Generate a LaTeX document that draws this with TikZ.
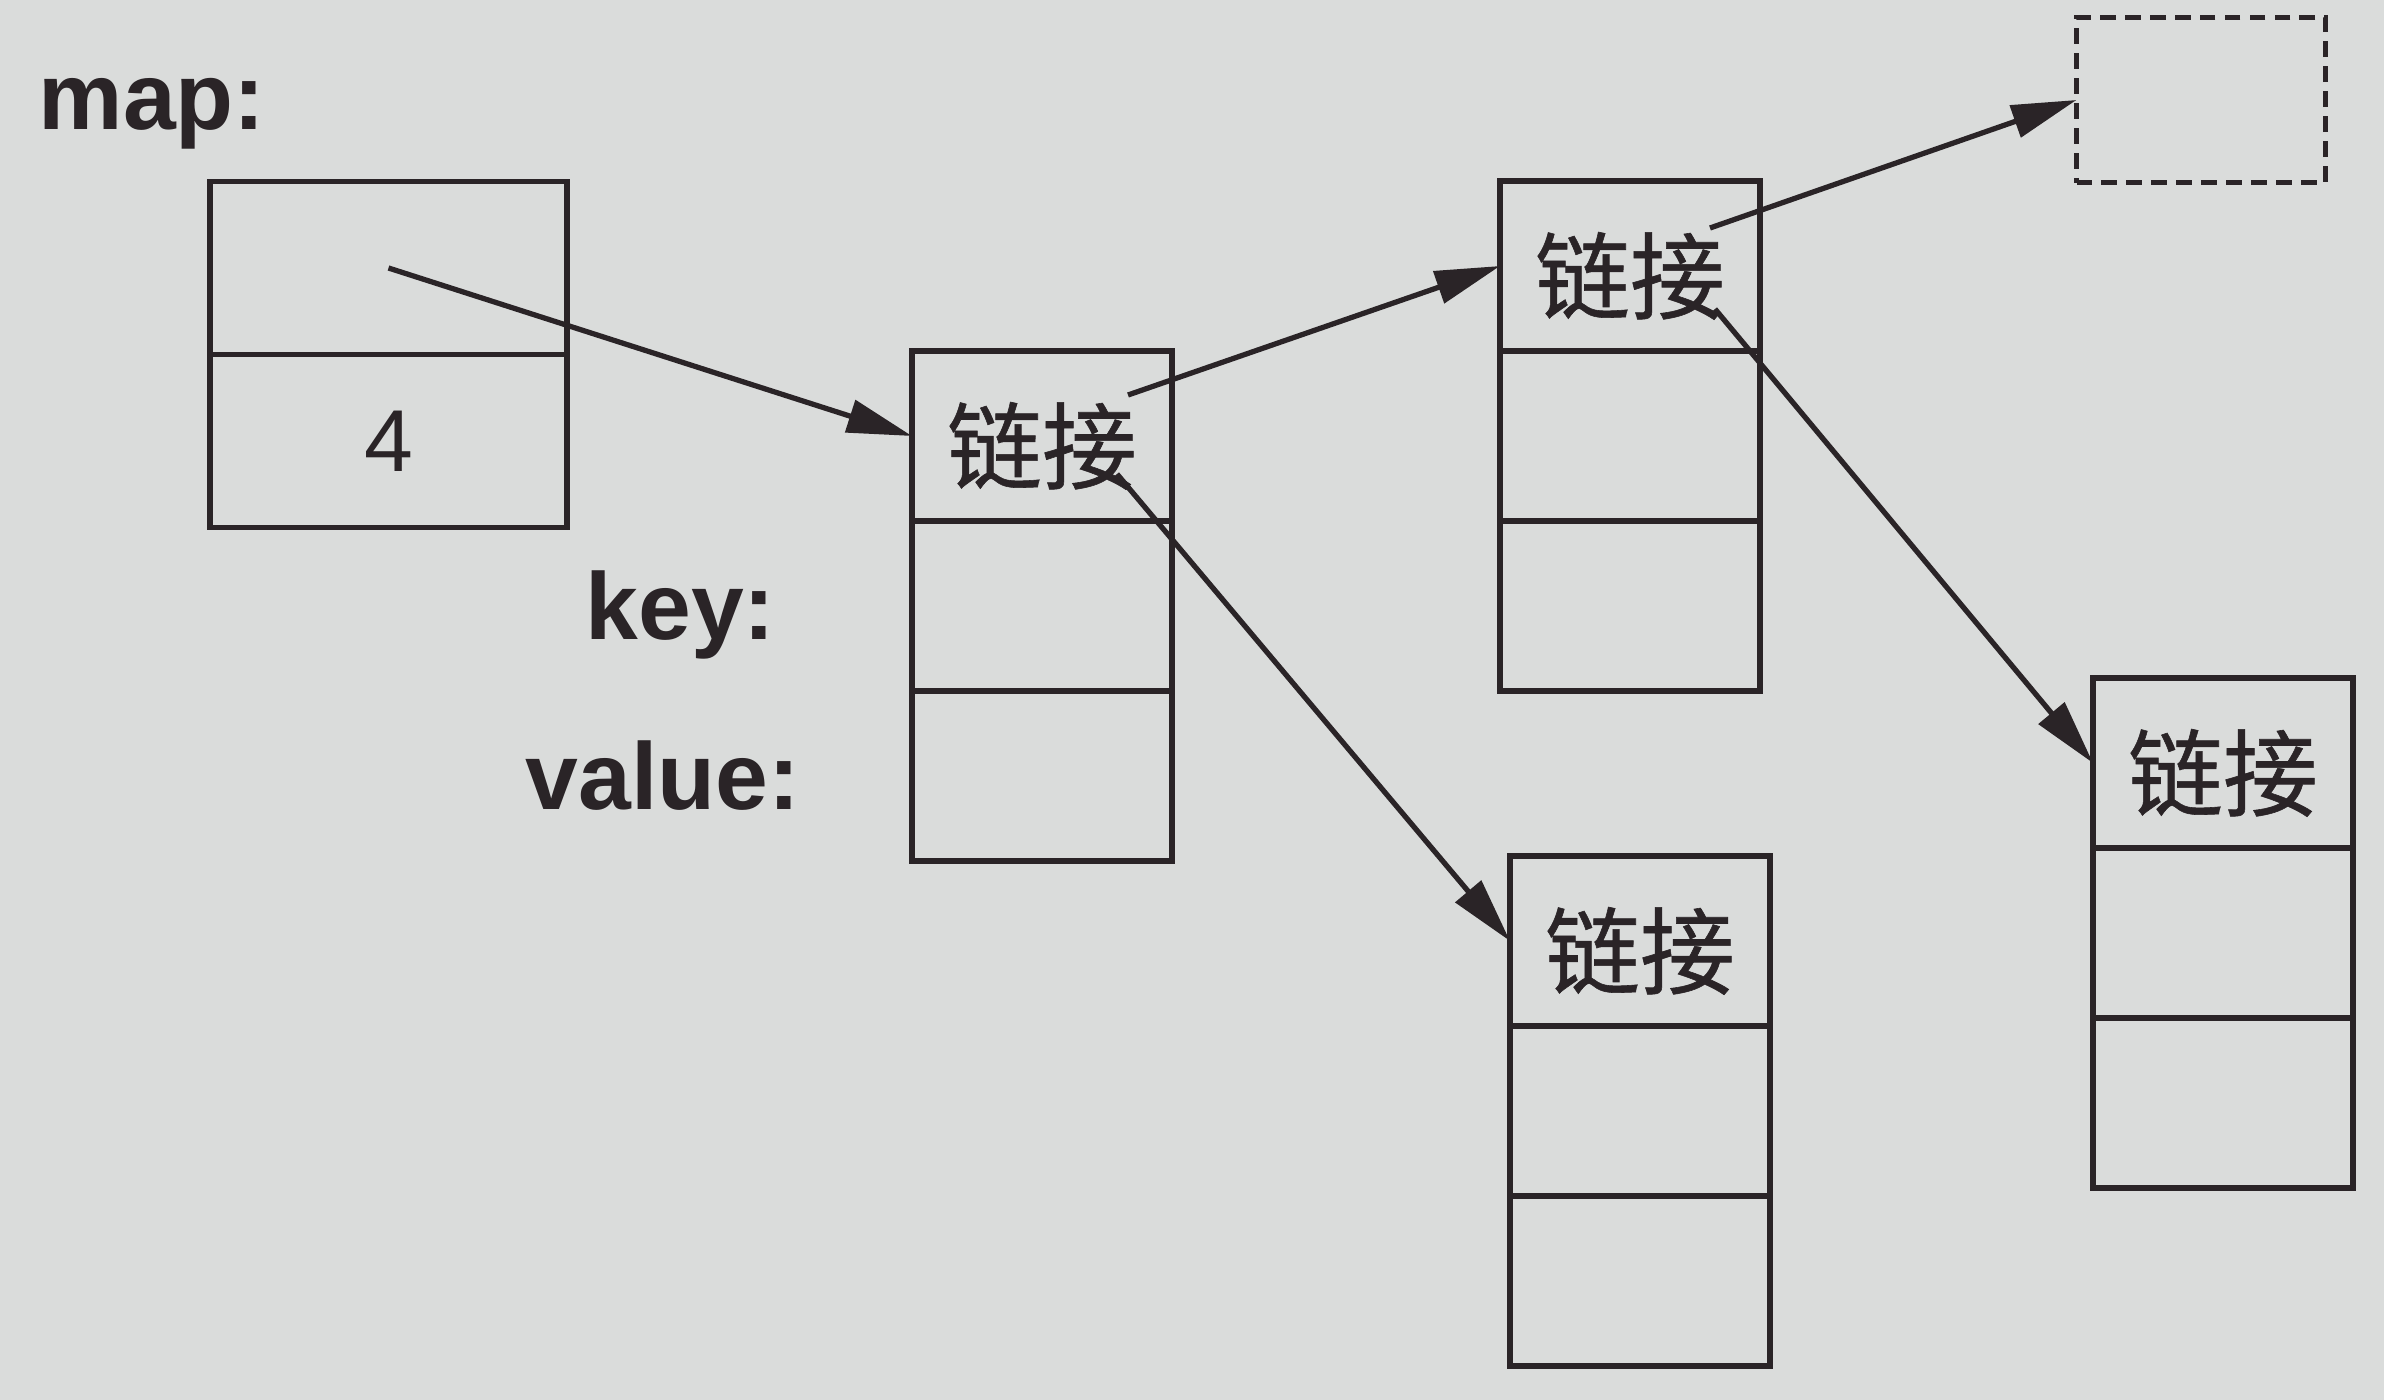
\documentclass[tikz,border=0pt]{standalone}
\usepackage{fontspec}
\setmainfont{Liberation Sans}
\newfontfamily\cjkfont[FakeBold=0.6]{Noto Sans CJK SC}
\usepackage{tikz}
\usetikzlibrary{positioning,arrows.meta}
\definecolor{paper}{RGB}{218,220,219}
\definecolor{ink}{RGB}{42,36,39}
\tikzstyle{cell} = [draw=ink, line width=1.6pt, inner sep=0pt, outer sep=0pt, minimum width=2.6cm, minimum height=1.7cm]
\tikzstyle{mapcell} = [cell, minimum width=3.57cm, minimum height=1.73cm]
\tikzstyle{link} = [cell, text=ink, font=\cjkfont\fontsize{27}{27}\selectfont, text height=1cm, text depth=0.08cm]
\tikzstyle{lbl} = [text=ink, font=\bfseries\fontsize{27}{32}\selectfont, inner sep=0pt, anchor=base west]
\tikzstyle{line} = [draw=ink, line width=1.5pt, -{Triangle[length=6.5mm,width=3.3mm]}]

\begin{document}
\begin{tikzpicture}

	\fill[paper] (0,0) rectangle (23.84,-14);
	\useasboundingbox (0,0) rectangle (23.84,-14);

	% labels
	\node[lbl] (maplbl) at (0.38,-1.29) {map:};
	\node[lbl] (keylbl) at (5.85,-6.39) {key:};
	\node[lbl] (vallbl) at (5.25,-8.09) {value:};

	% map
	\node[mapcell] (M1) at (3.885,-2.68) {};
	\node[mapcell, below=0pt of M1, text=ink, font=\fontsize{25}{25}\selectfont] (M2) {4};

	% nodes
	\node[link] (A1) at (10.42,-4.36) {链接};
	\node[cell, below=0pt of A1] (A2) {};
	\node[cell, below=0pt of A2] (A3) {};

	\node[link] (B1) at (16.30,-2.66) {链接};
	\node[cell, below=0pt of B1] (B2) {};
	\node[cell, below=0pt of B2] (B3) {};

	\node[link] (C1) at (16.40,-9.41) {链接};
	\node[cell, below=0pt of C1] (C2) {};
	\node[cell, below=0pt of C2] (C3) {};

	\node[link] (D1) at (22.23,-7.63) {链接};
	\node[cell, below=0pt of D1] (D2) {};
	\node[cell, below=0pt of D2] (D3) {};

	\node[cell, dash pattern=on 4.5pt off 2.6pt, minimum width=2.49cm, minimum height=1.65cm] (N) at (22.01,-1.00) {};

	% arrows
	\draw [line] (M1.center) -- (A1.west);
	\draw [line] ([shift={(0.86,0.41)}]A1.center) -- (B1.west);
	\draw [line] ([shift={(0.75,-0.38)}]A1.center) -- (C1.west);
	\draw [line] ([shift={(0.80,0.38)}]B1.center) -- (N.west);
	\draw [line] ([shift={(0.85,-0.43)}]B1.center) -- (D1.west);

\end{tikzpicture}
\end{document}
